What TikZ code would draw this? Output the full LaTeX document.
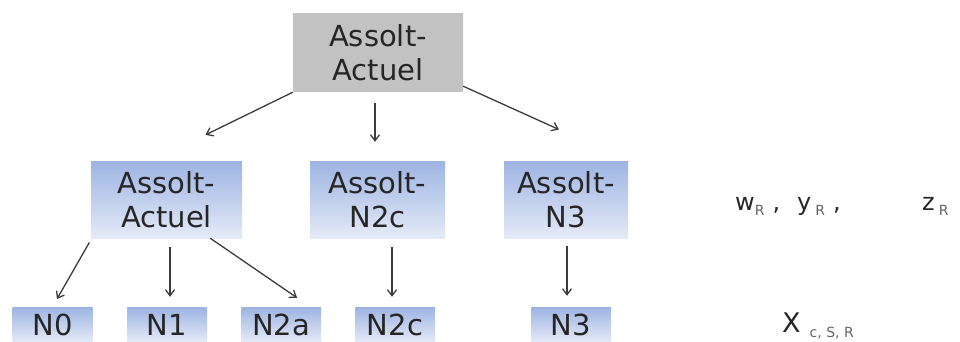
\documentclass[tikz,border=0pt]{standalone}
\usepackage{fontspec}
\setmainfont{DejaVu Sans}
\usetikzlibrary{arrows.meta}
\definecolor{boxtop}{HTML}{9DB4E2}
\definecolor{boxbot}{HTML}{E4EAF7}
\definecolor{boxgray}{HTML}{C2C2C2}
\definecolor{txt}{HTML}{262626}
\definecolor{arr}{HTML}{3C3C3C}
\newcommand{\sub}[1]{\raisebox{-5pt}{\fontsize{14}{16}\selectfont\color{gray!80!black}#1}}
\begin{document}
\begin{tikzpicture}[x=1pt, y=-1pt,
    lvl/.style={inner sep=0pt, top color=boxtop, bottom color=boxbot, text=txt, align=center,
        font=\fontsize{29}{34}\selectfont},
    arrow/.style={draw=arr, line width=1.3pt, -{Straight Barb[length=6pt, width=9pt]}}]
                \useasboundingbox (0,0) rectangle (960,342);
                \node[lvl, fill=boxgray, top color=boxgray, bottom color=boxgray,
                    minimum width=170, minimum height=78] (top) at (378,53) {Assolt-\\Actuel};
                \node[lvl, minimum width=151, minimum height=77] (ml) at (166.5,199.5) {Assolt-\\Actuel};
                \node[lvl, minimum width=135, minimum height=77] (mc) at (377.5,199.5) {Assolt-\\N2c};
                \node[lvl, minimum width=124, minimum height=77] (mr) at (566,199.5) {Assolt-\\N3};
                \foreach[count=\i] \t/\x in {N0/52.5, N1/167, N2a/281, N2c/395, N3/571}
                {
                    \node[lvl, minimum width=80, minimum height=35, text depth=0pt] (b\i) at (\x,324.5) {\t};
                }
                
                \draw[arrow, shorten >=59pt] (top.south west) -- ([xshift=-14pt]ml.north);
                \draw[arrow, shorten <=11pt, shorten >=19pt] ([xshift=-3pt]top.south) -- ([xshift=-3pt]top.south |- mc.north);
                \draw[arrow, shorten >=76pt] ([yshift=6pt]top.south east) -- (mr.north east);
                
                \draw[arrow, shorten <=5pt, shorten >=9pt] ([xshift=1pt]ml.south west) -- (b1.north);
                \draw[arrow, shorten <=9pt, shorten >=10pt] ([xshift=3.5pt]ml.south) -- ([xshift=3.5pt]ml.south |- b2.north);
                \draw[arrow, shorten >=16pt] ([xshift=-32pt]ml.south east) -- ([xshift=-11pt]b3.north east);
                \draw[arrow, shorten <=9pt, shorten >=10pt] ([xshift=14.5pt]mc.south) -- ([xshift=14.5pt]mc.south |- b4.north);
                \draw[arrow, shorten <=8pt, shorten >=11pt] ([xshift=1pt]mr.south) -- ([xshift=1pt]mr.south |- b5.north);
                
                \node[anchor=base west, inner sep=0pt, text=txt, font=\fontsize{24}{28}\selectfont] (w) at (735,210) {w\sub{R}\,\,,};
                \node[anchor=base west, inner sep=0pt, text=txt, font=\fontsize{24}{28}\selectfont] (y) at (797,210) {y\,\sub{R}\,\,,};
                \node[anchor=base west, inner sep=0pt, text=txt, font=\fontsize{24}{28}\selectfont] (z) at (922,210) {z\,\sub{R}};
                \node[anchor=base west, inner sep=0pt, text=txt, font=\fontsize{27}{32}\selectfont] (x) at (782,332) {X\,\,\sub{c, S, R}};
            \end{tikzpicture}
\end{document}
